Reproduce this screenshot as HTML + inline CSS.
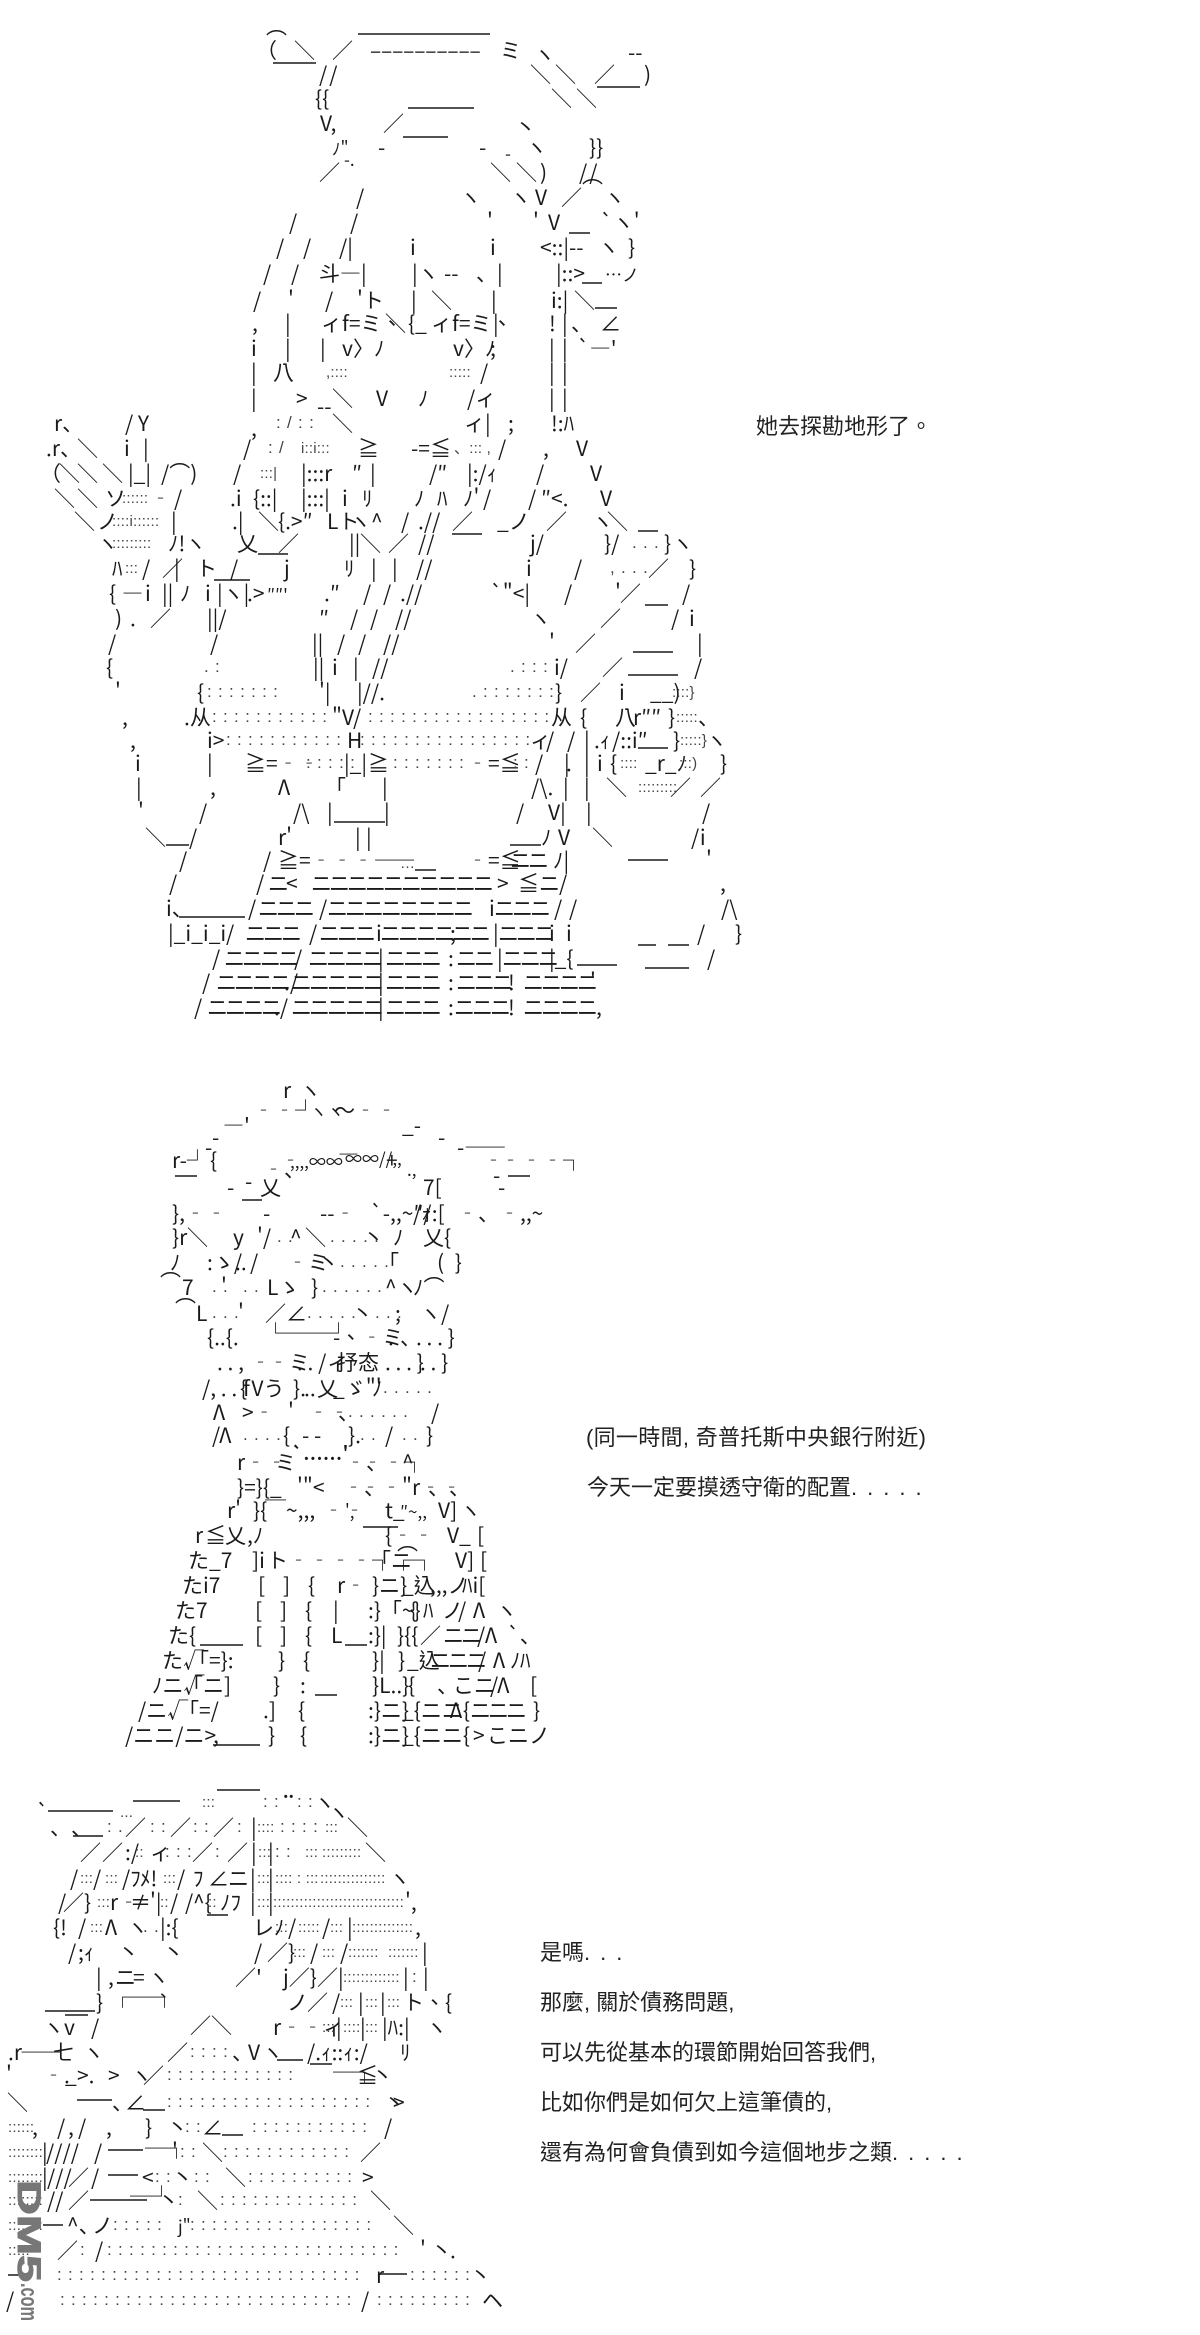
<!DOCTYPE html>
<html lang="zh-Hant"><head><meta charset="utf-8"><title>AA</title>
<style>
html,body{margin:0;padding:0;background:#fff}
svg{display:block}
text{font-family:"Noto Sans CJK JP","Liberation Sans",sans-serif;font-size:21px;fill:#1a1a1a;white-space:pre}
.c{font-family:"Liberation Sans",sans-serif;font-size:17px;letter-spacing:6.3px;fill:#444;transform:translateY(-3px)}
.e{font-family:"Liberation Sans",sans-serif;font-size:15px;letter-spacing:.2px;fill:#444;transform:translateY(-3px)}
.n{letter-spacing:-3px}
.s{font-size:17px}
.t{font-family:"Liberation Sans","Noto Sans CJK TC",sans-serif;font-size:22px;fill:#222}
</style></head><body>
<svg xmlns="http://www.w3.org/2000/svg" width="1200" height="2335" viewBox="0 0 1200 2335">
<rect width="1200" height="2335" fill="#fff"/>
<path fill="none" stroke="#1a1a1a" stroke-width="1.6" d="M358 34H490M273 63H316M597 87H640M408 108H474M403 137H448M569 233H590M582 283H602M595 308H617M638 531H658M452 534H482M258 554H288M214 580H250M633 652H673M628 675H678M645 605H668M334 822H385M166 845H189M510 845H541M628 860H668M415 870H436M179 917H245M638 945H656M668 945H689M577 965H617M645 968H689M638 748H668M175 1176H197M242 1200H262M363 1527H398M508 1176H530M200 1645H243M345 1645H367M315 1695H337M213 1745H260M217 1790H260M133 1801H180M48 1811H113M73 1836H103M207 1915H228M45 2011H95M65 2015H88M277 2060H303M310 2064H332M143 2110H165M222 2135H243M77 2100H112M108 2150H143M108 2175H138M90 2200H147M43 2225H63M380 2274H407M8 2275H20"/>

<g transform="translate(0,58)"><text x="256">（</text><text x="266" y="-10">⌒</text><text x="294">＼</text><text x="332">／</text><text x="370" style="letter-spacing:-.2px">––––––––––</text><text x="500">ミ</text><text x="534" y="4">ヽ</text></g>
<g transform="translate(0,82)"><text x="319" style="letter-spacing:2px">//</text><text x="530">＼</text><text x="555">＼</text><text x="594">／</text><text x="628" y="-22">--</text><text x="644">)</text></g>
<g transform="translate(0,106)"><text x="315">{{</text><text x="551">＼</text><text x="576">＼</text></g>
<g transform="translate(0,131)"><text x="320">V,</text><text x="383">／</text><text x="515" y="4">丶</text></g>
<g transform="translate(0,155)"><text x="332" class="s">ﾉ"</text><text x="378">-</text><text x="479">-</text><text x="526">ヽ</text><text x="589">}}</text></g>
<g transform="translate(0,180)"><text x="319">／</text><text x="344" y="-14" class="s">-.</text><text x="490">＼</text><text x="516">＼</text><text x="540">)</text><text x="505" y="-20" class="s">-</text><text x="579" style="letter-spacing:2px">//</text></g>
<g transform="translate(0,205)"><text x="356">/</text><text x="460">ヽ</text><text x="510">ヽ</text><text x="535">V</text><text x="561">／</text><text x="582" y="-8">⌒</text><text x="604">ヽ</text></g>
<g transform="translate(0,230)"><text x="289">/</text><text x="350">/</text><text x="487">'</text><text x="533">'</text><text x="548">V</text><text x="600">`ヽ'</text></g>
<g transform="translate(0,255)"><text x="276">/</text><text x="303">/</text><text x="339">/|</text><text x="410">i</text><text x="490">i</text><text x="540">&lt;::|--</text><text x="598">ヽ</text><text x="628">}</text></g>
<g transform="translate(0,281)"><text x="263">/</text><text x="291">/</text><text x="319">斗―|</text><text x="412">|ヽ</text><text x="444">--</text><text x="476">、|</text><text x="556">|::&gt;</text><text x="605" class="s">…ノ</text></g>
<g transform="translate(0,308)"><text x="253">/</text><text x="288">'</text><text x="325">/</text><text x="357">'ト</text><text x="411">|</text><text x="431">＼</text><text x="491">|</text><text x="551">i:|</text><text x="574">＼</text></g>
<g transform="translate(0,331)"><text x="252">,</text><text x="285">|</text><text x="321">ィf=ミ、</text><text x="385">＼</text><text x="408">{_</text><text x="431">ィf=ミ、</text><text x="493">|</text><text x="549">!</text><text x="562">|</text><text x="571">、</text><text x="600">∠</text></g>
<g transform="translate(0,356)"><text x="251">i</text><text x="285">|</text><text x="320">|</text><text x="342">v〉ﾉ</text><text x="453">v〉ﾉ</text><text x="490">;</text><text x="549">|</text><text x="562">|</text><text x="577">`―'</text></g>
<g transform="translate(0,380)"><text x="251">|</text><text x="273">八</text><text x="326" class="e">,::::</text><text x="449" class="e">:::::</text><text x="480">/</text><text x="549">|</text><text x="562">|</text></g>
<g transform="translate(0,406)"><text x="251">|</text><text x="296">&gt;</text><text x="332">＼</text><text x="376">V</text><text x="418">ﾉ</text><text x="467">/ィ</text><text x="549">|</text><text x="562">|</text><text x="317" y="8">--</text></g>
<g transform="translate(0,431)"><text x="54">r、</text><text x="125">/ Y</text><text x="276" class="c">:/::</text><text x="332">＼</text><text x="464">ィ|</text><text x="508">;</text><text x="551">!:ﾊ</text></g>
<g transform="translate(0,456)"><text x="46">.r、</text><text x="77">＼</text><text x="124">i</text><text x="143">|</text><text x="243">/</text><text x="268" class="c">:/</text><text x="301" class="e">i::i:::</text><text x="358">≧</text><text x="411">-=≦</text><text x="454" class="e">、::: ,</text><text x="498">/</text><text x="543">,</text><text x="576">V</text><text x="251" y="-20">,</text></g>
<g transform="translate(0,481)"><text x="40">（</text><text x="59">＼</text><text x="77">＼</text><text x="102">＼</text><text x="128">|_|</text><text x="161">/⌒)</text><text x="233">/</text><text x="260" class="e">:::|</text><text x="301">|:::r</text><text x="352">″</text><text x="370">|</text><text x="429">/″</text><text x="467">|:/ｨ</text><text x="536">/</text><text x="590">V</text></g>
<g transform="translate(0,506)"><text x="54">＼</text><text x="77">＼</text><text x="105">ソ</text><text x="122" class="e">::::::</text><text x="150">‐</text><text x="174">/</text><text x="230">.i</text><text x="253">{::|</text><text x="301">|:::|</text><text x="342">i</text><text x="362">ﾘ</text><text x="414">ﾉ</text><text x="437">ﾊ</text><text x="463">ﾉ'</text><text x="483">/</text><text x="528">/</text><text x="541">″&lt;.</text><text x="600">V</text></g>

<g transform="translate(0,529)"><text x="74">＼</text><text x="97">ノ</text><text x="112" class="e">::::i::::::</text><text x="171">|</text><text x="232">.|</text><text x="258">＼</text><text x="278">{.&gt;″</text><text x="327">Lト</text><text x="350">ヽ^</text><text x="401">/</text><text x="418">.//</text><text x="452">／</text><text x="497">_ノ</text><text x="546">／</text><text x="592">ヽ</text><text x="607">＼</text></g>
<g transform="translate(0,551)"><text x="97">ヽ</text><text x="112" class="e">:::::::::</text><text x="168">ﾉ!</text><text x="185">ヽ</text><text x="237">乂</text><text x="278">／</text><text x="349">||</text><text x="360">＼</text><text x="388">／</text><text x="418">//</text><text x="530">j/</text><text x="604">}/</text><text x="632" class="c">...</text><text x="664">}</text><text x="672">ヽ</text></g>
<g transform="translate(0,576)"><text x="112">ﾊ</text><text x="125" class="e">:::</text><text x="142">/</text><text x="162">／</text><text x="174">|</text><text x="196">ト</text><text x="230">/</text><text x="284">j</text><text x="344">ﾘ</text><text x="371">|</text><text x="392">|</text><text x="416">//</text><text x="526">i</text><text x="574">/</text><text x="610" class="c">,...</text><text x="648">／</text><text x="689">}</text></g>
<g transform="translate(0,601)"><text x="109">{</text><text x="122">―</text><text x="145">i</text><text x="162">||</text><text x="180">ﾉ</text><text x="205">i</text><text x="217">|ヽ|</text><text x="247">.&gt;</text><text x="267" class="s">″″'</text><text x="324">.″</text><text x="363">/</text><text x="383">/</text><text x="400">.//</text><text x="490">`"&lt;|</text><text x="564">/</text><text x="615">'</text><text x="620">／</text><text x="682">/</text></g>
<g transform="translate(0,626)"><text x="115">)</text><text x="130">.</text><text x="150">／</text><text x="207">||/</text><text x="319">″</text><text x="350">/</text><text x="370">/</text><text x="395">//</text><text x="530">ヽ</text><text x="600">／</text><text x="671">/</text><text x="689">i</text></g>
<g transform="translate(0,651)"><text x="108">/</text><text x="210">/</text><text x="312">||</text><text x="337">/</text><text x="358">/</text><text x="383">//</text><text x="549">'</text><text x="575">／</text><text x="697">|</text></g>
<g transform="translate(0,675)"><text x="106">{</text><text x="204" class="c">.:</text><text x="313">||</text><text x="332">i</text><text x="353">|</text><text x="372">//</text><text x="510" class="c">.:::</text><text x="554">i/</text><text x="602">／</text><text x="694">/</text></g>
<g transform="translate(0,700)"><text x="115">'</text><text x="197">{</text><text x="207" class="c">:::::::</text><text x="319">'|</text><text x="357">|//.</text><text x="472" class="c">.:::::::</text><text x="555">}</text><text x="580">／</text><text x="619">i</text><text x="650">__)</text><text x="672" class="e">::::}</text></g>
<g transform="translate(0,725)"><text x="122">,</text><text x="184">.从</text><text x="212" class="c">:::::::::::</text><text x="332">"V/</text><text x="368" class="c">:::::::::::::::::</text><text x="551">从</text><text x="580">{</text><text x="615">八</text><text x="633">r″″</text><text x="668">}</text><text x="676" class="e">:::::</text><text x="698">、</text></g>
<g transform="translate(0,748)"><text x="130">,</text><text x="207">i&gt;</text><text x="226" class="c">:::::::::::</text><text x="347">H</text><text x="360" class="c">::::::::::::::::</text><text x="530">ィ</text><text x="546">/</text><text x="567">/</text><text x="584">|</text><text x="594">.ｨ</text><text x="612">/::i″</text><text x="673">}</text><text x="680" class="e">:::::}</text><text x="706">ヽ</text></g>
<g transform="translate(0,771)"><text x="135">i</text><text x="207">|</text><text x="245">≧=‐‐</text><text x="306" class="c">:::::</text><text x="344">|_|</text><text x="368">≧</text><text x="393" class="c">:::::::</text><text x="467">‐=≦</text><text x="513" class="c">::</text><text x="535">/</text><text x="566">.</text><text x="564">|</text><text x="584">|</text><text x="597">i</text><text x="610">{</text><text x="620" class="e">::::</text><text x="645">_r_ﾉ</text><text x="679" class="e">:::)</text><text x="720">}</text></g>
<g transform="translate(0,795)"><text x="136">|</text><text x="210">,</text><text x="278">Λ</text><text x="325">「</text><text x="382">|</text><text x="531">/\.</text><text x="563">|</text><text x="584">|</text><text x="606">＼</text><text x="638" class="e">:::::::::</text><text x="670">／</text><text x="700">／</text></g>
<g transform="translate(0,820)"><text x="138">'</text><text x="199">/</text><text x="293">/\</text><text x="327">|</text><text x="384">|</text><text x="516">/</text><text x="548">V|</text><text x="586">|</text><text x="702">/</text></g>
<g transform="translate(0,845)"><text x="145">＼</text><text x="189">/</text><text x="278">r'</text><text x="355">|</text><text x="366">|</text><text x="541">ﾉ</text><text x="558">V</text><text x="592">＼</text><text x="691">/i</text></g>
<g transform="translate(0,868)"><text x="179">/</text><text x="263">/</text><text x="278">≧=‐‐‐――</text><text x="400" class="e" y="3">…</text><text x="467">‐=≦</text><text x="510" class="n">ニニ</text><text x="553">ﾉ|</text><text x="706">'</text></g>
<g transform="translate(0,891)"><text x="169">/</text><text x="256">/</text><text x="268">ニ</text><text x="286">&lt;</text><text x="311" class="n">ニニニニニニニニニニ</text><text x="497">&gt;</text><text x="518">≦ニ</text><text x="559">/</text><text x="720">,</text></g>
<g transform="translate(0,916)"><text x="166">i、</text><text x="248">/</text><text x="258" class="n">ニニニ</text><text x="319">/</text><text x="327" class="n">ニニニニニニニニ</text><text x="489">i</text><text x="494" class="n">ニニニ</text><text x="554">/</text><text x="569">/</text><text x="721">/\</text></g>
<g transform="translate(0,941)"><text x="168">|_i_i_i</text><text x="226">/</text><text x="245" class="n">ニニニ</text><text x="309">/</text><text x="319" class="n">ニニニ</text><text x="376">i</text><text x="380" class="n">ニニニニ</text><text x="450">;</text><text x="452" class="n">ニニ</text><text x="493">|</text><text x="498" class="n">ニニニ</text><text x="549">i</text><text x="566">i</text><text x="697">/</text><text x="735">}</text></g>
<g transform="translate(0,966)"><text x="212">/</text><text x="224" class="n">ニニニニ</text><text x="294">/</text><text x="308" class="n">ニニニニ</text><text x="378">|</text><text x="385" class="n">ニニニ</text><text x="448">:</text><text x="456" class="n">ニニ</text><text x="497">|</text><text x="502" class="n">ニニニ</text><text x="549">|_{</text><text x="707">/</text></g>
<g transform="translate(0,990)"><text x="202">/</text><text x="216" class="n">ニニニニ</text><text x="284">./</text><text x="291" class="n">ニニニニニ</text><text x="378">|</text><text x="385" class="n">ニニニ</text><text x="448">:</text><text x="456" class="n">ニニニ</text><text x="508">!</text><text x="523" class="n">ニニニニ</text><text x="590">'</text></g>
<g transform="translate(0,1015)"><text x="194">/</text><text x="207" class="n">ニニニニ</text><text x="274">./</text><text x="291" class="n">ニニニニニ</text><text x="378">|</text><text x="385" class="n">ニニニ</text><text x="448">:</text><text x="454" class="n">ニニニ</text><text x="508">!</text><text x="523" class="n">ニニニニ</text><text x="596">,</text></g>

<g transform="translate(0,1098)"><text x="283">r</text><text x="300">ヽ</text></g>
<g transform="translate(0,1118)"><text x="253">‐‐┘</text><text x="310" class="s">ヽヽ</text><text x="334">～‐‐</text></g>
<g transform="translate(0,1133)"><text x="223">―'</text><text x="402">_-</text></g>
<g transform="translate(0,1145)"><text x="212">-</text><text x="438">-</text></g>
<g transform="translate(0,1155)"><text x="205">-</text><text x="457">-――</text></g>
<g transform="translate(0,1168)"><text x="172">r-┘</text><text x="210">{</text><text x="280">‐</text><text x="290" class="s">,,,,∞∞</text><text x="338" y="-6">―</text><text x="345" class="s" y="-3">∞∞//,,</text><text x="386">+</text><text x="407" y="8" class="s">.,</text><text x="483">‐</text><text x="500">‐‐‐┐</text></g>
<g transform="translate(0,1183)"><text x="263" y="-6">‐、</text><text x="493">-</text></g>
<g transform="translate(0,1195)"><text x="227">-</text><text x="260">乂</text><text x="423">7[</text><text x="498">-</text><text x="245" y="-6">-</text></g>
<g transform="translate(0,1221)"><text x="172">},‐‐</text><text x="263">-</text><text x="320">--‐</text><text x="370">`-,,~″/</text><text x="413">/ｫ:[</text><text x="457">‐、‐,,~</text></g>
<g transform="translate(0,1245)"><text x="172">}r</text><text x="187">＼</text><text x="233">y</text><text x="257">'/</text><text x="277" class="c">..</text><text x="290">^</text><text x="305">＼</text><text x="330" class="c">.....</text><text x="363">丶</text><text x="393">ﾉ</text><text x="423">乂{</text></g>
<g transform="translate(0,1270)"><text x="170">ﾉ</text><text x="207">:ゝ/</text><text x="235">..</text><text x="250">/</text><text x="287">‐ミ</text><text x="318">丶</text><text x="340" class="c">.....</text><text x="378">「</text><text x="437">(</text><text x="450"> }</text></g>
<g transform="translate(0,1295)"><text x="160" y="-5">⌒</text><text x="182">7</text><text x="212" class="c">..</text><text x="221">'</text><text x="243" class="c">..</text><text x="267">Lゝ</text><text x="311">}</text><text x="322" class="c">......</text><text x="385">^ヽ</text><text x="413">ﾉ⌒</text></g>
<g transform="translate(0,1321)"><text x="175" y="-5">⌒</text><text x="196">L</text><text x="212" class="c">...</text><text x="238">'</text><text x="265">／∠</text><text x="307" class="c">.....</text><text x="352">丶</text><text x="375" class="c">...</text><text x="395">;</text><text x="420">ヽ/</text></g>
<g transform="translate(0,1345)"><text x="207">{..{.</text><text x="265" y="-4">└──┘</text><text x="333">-、‐ミ</text><text x="388">.</text><text x="400">、</text><text x="416">. . . }</text></g>
<g transform="translate(0,1370)"><text x="217">. . ,</text><text x="250">‐</text><text x="268">‐ミ</text><text x="297">. . /</text><text x="327">ィ</text><text x="337">抒态</text><text x="385">. . . }</text><text x="420">. . }</text></g>
<g transform="translate(0,1396)"><text x="202">/, . .</text><text x="240">{</text><text x="243">fVう</text><text x="293">}.</text><text x="304">..</text><text x="317">乂</text><text x="333">_ゞ"'</text><text x="372">ﾉ</text><text x="383" class="c">.....</text></g>
<g transform="translate(0,1420)"><text x="213">Λ</text><text x="242">&gt;‐</text><text x="288">'</text><text x="308">‐‐</text><text x="338">、</text><text x="348" class="c">......</text><text x="431">/</text></g>
<g transform="translate(0,1443)"><text x="212">/Λ</text><text x="243" class="c">....</text><text x="283">{</text><text x="302">- -</text><text x="348">}.</text><text x="360" class="c">..</text><text x="385">/</text><text x="402" class="c">..</text><text x="426">}</text></g>
<g transform="translate(0,1470)"><text x="237">r‐‐</text><text x="275">ミ</text><text x="292" y="-10" style="font-weight:700;letter-spacing:1px" class="s">`......'</text><text x="345">‐、</text><text x="362">‐‐┐</text><text x="402">^</text></g>
<g transform="translate(0,1495)"><text x="237">}=}{</text><text x="270">_</text><text x="297">'"&lt;</text><text x="343">‐、</text><text x="360">‐‐"r‐‐</text><text x="428">、、</text></g>
<g transform="translate(0,1518)"><text x="227">r'</text><text x="253">}{</text><text x="265">￣~,,,</text><text x="323">‐‐</text><text x="345" class="s">',</text><text x="385">t_</text><text x="400" class="s">″~,,</text><text x="438">V]</text><text x="460">ヽ</text></g>
<g transform="translate(0,1543)"><text x="195">r</text><text x="205">≦</text><text x="225">乂</text><text x="247">,ﾉ</text><text x="385">{‐‐</text><text x="447">V_</text><text x="477">[</text></g>
<g transform="translate(0,1568)"><text x="188">た_7</text><text x="252">]i</text><text x="267">ト‐‐‐‐┐┌┐</text><text x="370">「ニ</text><text x="397" y="-4">⌒</text><text x="455">V]</text><text x="480">[</text></g>
<g transform="translate(0,1593)"><text x="182">たi7</text><text x="258">[</text><text x="283">]</text><text x="308">{</text><text x="337">r‐</text><text x="372">}ニ}</text><text x="402">_込</text><text x="430">,,,ノ</text><text x="462">ﾊi[</text></g>
<g transform="translate(0,1618)"><text x="175">た7</text><text x="255">[</text><text x="280">]</text><text x="305">{</text><text x="333">|</text><text x="368">:}「~}</text><text x="410">{</text><text x="423">ﾊ</text><text x="442">ノ</text><text x="458">/</text><text x="473">Λ</text><text x="496">ヽ</text></g>
<g transform="translate(0,1643)"><text x="168">た{</text><text x="255">[</text><text x="280">]</text><text x="305">{</text><text x="331">L</text><text x="368">:}|</text><text x="397">}{{</text><text x="420">／</text><text x="443" class="n">ニニ</text><text x="477">/</text><text x="485">Λ</text><text x="507">`、</text></g>
<g transform="translate(0,1668)"><text x="162">た√</text><text x="188">「=}:</text><text x="278">}</text><text x="303">{</text><text x="372">}|</text><text x="398">}</text><text x="407">_込</text><text x="430" class="n">ニニニ</text><text x="478">/</text><text x="493">Λ</text><text x="510">ﾉ</text><text x="520">ﾊ</text></g>
<g transform="translate(0,1693)"><text x="152">ﾉニ√</text><text x="182">「ニ]</text><text x="273">}</text><text x="300">:</text><text x="372">}L..}</text><text x="408">{</text><text x="437">、</text><text x="453">こニ</text><text x="490">/Λ</text><text x="530">[</text></g>
<g transform="translate(0,1718)"><text x="138">/ニ√</text><text x="178">「=/</text><text x="263">.]</text><text x="298">{</text><text x="368">:}ニ}</text><text x="402">_{ニニ{</text><text x="450">Λ</text><text x="470" class="n">ニニニ</text><text x="533">}</text></g>
<g transform="translate(0,1743)"><text x="125">/ニニ/ニ&gt;</text><text x="213">,</text><text x="268">}</text><text x="300">{</text><text x="368">:}ニ}</text><text x="402">_{ニニ{</text><text x="473">&gt;</text><text x="487">こニノ</text></g>

<g transform="translate(0,1798)"><text x="283" style="font-weight:700" class="s">..</text></g>
<g transform="translate(0,1810)"><text x="202" class="e">:::</text><text x="263" class="c">::</text><text x="297" class="c">::</text><text x="314">ヽ</text><text x="36" y="10">`</text></g>
<g transform="translate(0,1820)"><text x="120" class="e">...</text><text x="328">ヽ</text></g>
<g transform="translate(0,1835)"><text x="50">、、</text><text x="107" class="c">:.</text><text x="125">／</text><text x="150" class="c">::</text><text x="170">／</text><text x="193" class="c">::</text><text x="213">／</text><text x="237" class="c">:</text><text x="251">|</text><text x="257" class="e">::::</text><text x="280" class="c">::::</text><text x="325" class="e">:::</text><text x="347">＼</text></g>
<g transform="translate(0,1860)"><text x="80">／</text><text x="102">／</text><text x="125">:/</text><text x="135" class="e">::</text><text x="150">ィ</text><text x="165" class="c">:::</text><text x="192">／</text><text x="215" class="c">:</text><text x="227">／</text><text x="251">|</text><text x="258" class="e">:::</text><text x="268">|</text><text x="275" class="c">::</text><text x="305" class="e">:::</text><text x="322" class="e">:::::::::</text><text x="365">＼</text></g>
<g transform="translate(0,1886)"><text x="70">/</text><text x="80" class="e">:::</text><text x="93">/</text><text x="105" class="e">:::</text><text x="122">/ﾌ</text><text x="140">ﾒ!</text><text x="163" class="e">:::</text><text x="177">/</text><text x="193">ﾌ</text><text x="208">∠</text><text x="228">ニ</text><text x="250">|</text><text x="257" class="e">:::</text><text x="268">|</text><text x="275" class="e">:::: : :::</text><text x="320" class="e">:::::::::::::::</text><text x="389">ヽ</text></g>
<g transform="translate(0,1910)"><text x="58">/</text><text x="63">／}</text><text x="97" class="e">:::</text><text x="110">r‐</text><text x="130">≠</text><text x="150">'|</text><text x="160" class="e">::</text><text x="170">/</text><text x="185">/</text><text x="193">^{</text><text x="208" class="e">::</text><text x="220">ﾉﾌ</text><text x="250">|</text><text x="257" class="e">:::</text><text x="268">|</text><text x="273" class="e">::::::::::::::::::::::::::::::</text><text x="405">',</text></g>
<g transform="translate(0,1935)"><text x="53">{!</text><text x="78">/</text><text x="90" class="e">:::</text><text x="105">Λ</text><text x="127">ヽ</text><text x="143" class="c">..</text><text x="160">|:{</text><text x="253">レﾉ</text><text x="275" class="e">:::</text><text x="288">/</text><text x="298" class="e">:::::</text><text x="322">/</text><text x="330" class="e">:::</text><text x="347">|</text><text x="352" class="e">::::::::::::::</text><text x="415">,</text></g>
<g transform="translate(0,1960)"><text x="68">/</text><text x="78">;ｨ</text><text x="118">丶</text><text x="163">丶</text><text x="254">/</text><text x="267">／}</text><text x="293" class="e">:::</text><text x="310">/</text><text x="322" class="e">:::</text><text x="340">/</text><text x="348" class="e">:::::::</text><text x="388" class="e">:::::::</text><text x="422">|</text></g>
<g transform="translate(0,1985)"><text x="96">|</text><text x="108">,</text><text x="115">ニ</text><text x="133">=</text><text x="148">ヽ</text><text x="160" y="12" class="s">、</text><text x="235">／'</text><text x="283">j／}</text><text x="317">／</text><text x="338">|</text><text x="343" class="e">:::::::::::::</text><text x="403">|</text><text x="412" class="c">:</text><text x="423">|</text></g>
<g transform="translate(0,2010)"><text x="96">}</text><text x="112" y="-5">┌─┐</text><text x="287">ノ</text><text x="307">／</text><text x="332">/</text><text x="340" class="e">:::</text><text x="358">|</text><text x="365" class="e">:::</text><text x="380">|</text><text x="387" class="e">:::</text><text x="403">ト、{</text></g>
<g transform="translate(0,2035)"><text x="43">ヽv</text><text x="91">/</text><text x="190" y="-2">／＼</text><text x="273">r‐‐ィ</text><text x="322" class="e">:::</text><text x="336">|</text><text x="343" class="e">::::</text><text x="360">|</text><text x="365" class="e">:::</text><text x="382">|ﾊ:|</text><text x="426">ヽ</text></g>
<g transform="translate(0,2060)"><text x="8">.r</text><text x="20">――</text><text x="53">七</text><text x="83">ヽ</text><text x="167">／</text><text x="190" class="c">::::</text><text x="232">、</text><text x="248">V</text><text x="262">ヽ</text><text x="307">/.ｨ::ｨ:/</text><text x="400">ﾘ</text></g>
<g transform="translate(0,2083)"><text x="6">'</text><text x="43">‐.</text><text x="65">_</text><text x="77">&gt;.</text><text x="108">&gt;</text><text x="131">ヽ</text><text x="143">／</text><text x="167" class="c">::::::::::::</text><text x="333" y="-3">─┐</text><text x="357">≦</text><text x="372">丶</text></g>
<g transform="translate(0,2110)"><text x="7">＼</text><text x="112">、</text><text x="125">∠</text><text x="167" class="c">:::::::::::::::::::</text><text x="384">丶</text><text x="393">&gt;</text></g>
<g transform="translate(0,2135)"><text x="8" class="e">::::::</text><text x="32">,</text><text x="57">/</text><text x="68">,</text><text x="78">/</text><text x="106">,</text><text x="145">}</text><text x="167">丶</text><text x="185" class="c">::</text><text x="202">∠</text><text x="252" class="c">:::::::::::</text><text x="384">/</text></g>
<g transform="translate(0,2160)"><text x="8" class="e">::::::::</text><text x="42">|</text><text x="46">////</text><text x="94">/</text><text x="145" y="-4">─┐</text><text x="172">'</text><text x="180" class="c">::</text><text x="202">＼</text><text x="223" class="c">::::::::::::</text><text x="360">／</text></g>
<g transform="translate(0,2185)"><text x="8" class="e">::::::::</text><text x="42">|</text><text x="47">///</text><text x="68">／</text><text x="91">/</text><text x="142">&lt;</text><text x="155" class="c">::</text><text x="172">丶</text><text x="194" class="c">::</text><text x="225">＼</text><text x="248" class="c">::::::::::</text><text x="362">&gt;</text></g>
<g transform="translate(0,2208)"><text x="8" class="e">::::::::</text><text x="47">//</text><text x="68">／</text><text x="130" y="-4">─┘</text><text x="158">丶</text><text x="178" class="c">:</text><text x="197">＼</text><text x="220" class="c">:::::::::::::</text><text x="370">＼</text></g>
<g transform="translate(0,2233)"><text x="8" class="e">::::::::</text><text x="67">^、</text><text x="92">ノ</text><text x="113" class="c">:::::</text><text x="178" class="s">j"</text><text x="190" class="c">:::::::::::::::::</text><text x="393">＼</text></g>
<g transform="translate(0,2258)"><text x="8" class="e">:::::</text><text x="57">／</text><text x="80" class="c">:</text><text x="95">/</text><text x="107" class="c">:::::::::::::::::::::::::::</text><text x="420">'</text><text x="431">丶</text><text x="450">.</text></g>
<g transform="translate(0,2283)"><text x="57" class="c">::::::::::::::::::::::::::::</text><text x="376">r</text><text x="410" class="c">::::::</text><text x="470">丶</text></g>
<g transform="translate(0,2308)"><text x="6">/</text><text x="60" class="c">:::::::::::::::::::::::::::</text><text x="361">/</text><text x="377" class="c">:::::::::</text><text x="482">ヘ</text></g>

<text transform="translate(18,2180) rotate(90)" style="font-family:'Liberation Sans',sans-serif;font-weight:700;font-size:32px;fill:#777;stroke:#777;stroke-width:1" textLength="102" lengthAdjust="spacingAndGlyphs">DM5</text><text transform="translate(21,2283) rotate(90)" style="font-family:'Liberation Sans',sans-serif;font-weight:700;font-size:24px;fill:#777" textLength="38" lengthAdjust="spacingAndGlyphs">.com</text>

<text class="t" x="756" y="434">她去探勘地形了。</text>
<text class="t" x="586" y="1445" style="letter-spacing:.3px">(同一時間, 奇普托斯中央銀行附近)</text>
<text class="t" x="587" y="1495">今天一定要摸透守衛的配置<tspan style="letter-spacing:10px">.....</tspan></text>
<text class="t" x="540" y="1960">是嗎<tspan style="letter-spacing:10px">...</tspan></text>
<text class="t" x="540" y="2010">那麼, 關於債務問題,</text>
<text class="t" x="540" y="2060">可以先從基本的環節開始回答我們,</text>
<text class="t" x="540" y="2110">比如你們是如何欠上這筆債的,</text>
<text class="t" x="540" y="2160">還有為何會負債到如今這個地步之類<tspan style="letter-spacing:10px">.....</tspan></text>
</svg>
</body></html>
